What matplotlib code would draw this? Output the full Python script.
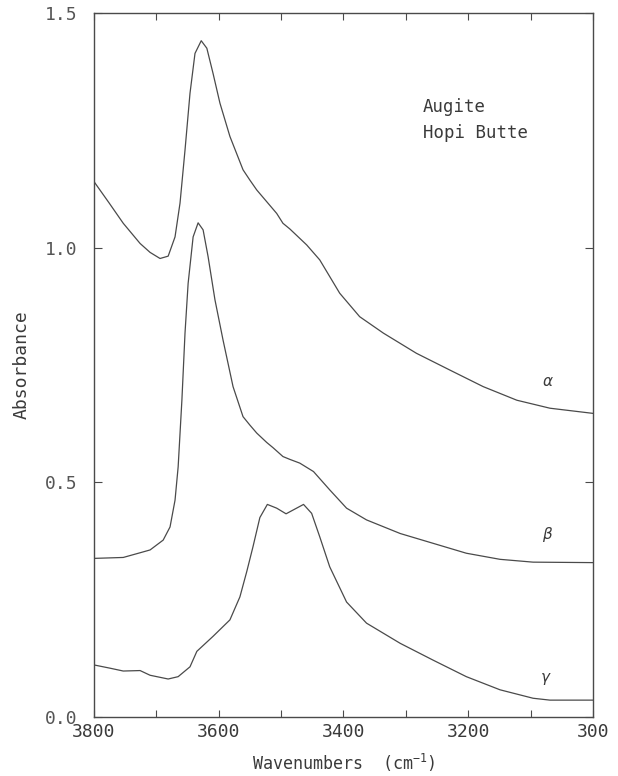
import matplotlib
matplotlib.use("Agg")
import matplotlib.pyplot as plt
from matplotlib.ticker import MultipleLocator, FixedLocator, FixedFormatter

plt.rcParams['font.family'] = ['DejaVu Sans Mono']
plt.rcParams['mathtext.default'] = 'regular'

alpha_wn = [3800, 3776, 3753, 3726, 3710, 3694, 3681, 3670, 3662, 3654, 3646, 3638, 3628,
            3619, 3609, 3598, 3582, 3561, 3550, 3539, 3507, 3497, 3486, 3459, 3438,
            3406, 3374, 3336, 3283, 3229, 3176, 3122, 3069, 3000]
alpha_abs = [1.141, 1.096, 1.052, 1.009, 0.990, 0.977, 0.982, 1.023, 1.095, 1.208, 1.329, 1.414, 1.441,
             1.425, 1.371, 1.308, 1.237, 1.166, 1.144, 1.123, 1.073, 1.052, 1.040, 1.006, 0.974,
             0.903, 0.853, 0.818, 0.775, 0.739, 0.704, 0.675, 0.658, 0.647]

beta_wn = [3800, 3753, 3726, 3710, 3689, 3678, 3670, 3665, 3659, 3654, 3649, 3641, 3633,
           3625, 3617, 3606, 3593, 3577, 3561, 3550, 3539, 3523, 3513, 3497, 3486, 3470,
           3448, 3422, 3395, 3363, 3309, 3256, 3203, 3149, 3096, 3000]
beta_abs = [0.338, 0.340, 0.350, 0.356, 0.377, 0.405, 0.462, 0.533, 0.675, 0.818, 0.924, 1.023, 1.053,
            1.038, 0.981, 0.889, 0.803, 0.704, 0.640, 0.622, 0.605, 0.585, 0.574, 0.555, 0.549, 0.541,
            0.523, 0.484, 0.445, 0.420, 0.391, 0.370, 0.349, 0.336, 0.330, 0.329]

gamma_wn = [3800, 3774, 3753, 3726, 3710, 3681, 3665, 3646, 3635, 3609, 3582, 3566, 3555,
            3545, 3534, 3522, 3507, 3492, 3464, 3451, 3438, 3422, 3395, 3363, 3309, 3256,
            3203, 3149, 3096, 3069, 3000]
gamma_abs = [0.111, 0.104, 0.098, 0.099, 0.089, 0.081, 0.086, 0.107, 0.140, 0.172, 0.207, 0.256, 0.310,
             0.363, 0.425, 0.453, 0.445, 0.433, 0.453, 0.434, 0.384, 0.320, 0.245, 0.200, 0.157, 0.121,
             0.086, 0.058, 0.040, 0.036, 0.036]

x_ticks = [3800, 3600, 3400, 3200, 3000]
x_tick_labels = ['3800', '3600', '3400', '3200', '300']
y_ticks = [0.0, 0.5, 1.0, 1.5]
y_tick_labels = ['0.0', '0.5', '1.0', '1.5']
curve_labels = ['\u03b1', '\u03b2', '\u03b3']
label_pos = [(3072, 0.714), (3074, 0.388), (3076, 0.085)]
title_lines = ['Augite', 'Hopi Butte']

line_col = '#4a4a4a'
text_col = '#3a3a3a'

fig = plt.figure(figsize=(6.18, 7.76), dpi=100)
ax = fig.add_axes([0.152, 0.076, 0.8075, 0.9072])

for wn, ab in [(alpha_wn, alpha_abs), (beta_wn, beta_abs), (gamma_wn, gamma_abs)]:
    ax.plot(wn, ab, color=line_col, lw=0.9)

ax.set_xlim(3800, 3000)
ax.set_ylim(0, 1.5)

ax.xaxis.set_major_locator(FixedLocator(x_ticks))
ax.xaxis.set_major_formatter(FixedFormatter(x_tick_labels))
ax.xaxis.set_minor_locator(MultipleLocator(100))
ax.yaxis.set_major_locator(FixedLocator(y_ticks))
ax.yaxis.set_major_formatter(FixedFormatter(y_tick_labels))

ax.tick_params(axis='x', which='both', direction='in', top=True, bottom=True,
               length=5, width=0.8, color=line_col, labelsize=13, labelcolor=text_col, pad=4)
ax.tick_params(axis='y', which='both', direction='in', left=True, right=True,
               length=6, width=0.8, color=line_col, labelsize=13, labelcolor='#555555', pad=12)

for s in ax.spines.values():
    s.set_color(line_col)
    s.set_linewidth(1.0)

ax.set_xlabel('Wavenumbers  (cm$^{-1}$)', fontsize=12, color=text_col, labelpad=8)
ax.set_ylabel('Absorbance', fontsize=13, color=text_col, labelpad=10)

for lab, (x, y) in zip(curve_labels, label_pos):
    ax.text(x, y, lab, fontsize=11, color=text_col, ha='center', va='center',
            fontfamily=['DejaVu Sans'], style='italic')

ax.text(3273, 1.30, title_lines[0], fontsize=12.5, color=text_col, ha='left', va='center')
ax.text(3273, 1.244, title_lines[1], fontsize=12.5, color=text_col, ha='left', va='center')

fig.savefig('out.png', dpi=100)
